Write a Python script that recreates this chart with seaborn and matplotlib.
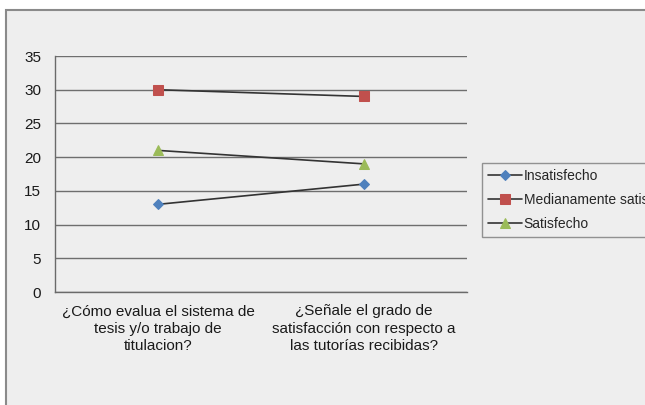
import matplotlib
matplotlib.use("Agg")
import matplotlib.pyplot as plt
from matplotlib.patches import Rectangle
import seaborn as sns
import pandas as pd

questions = [
    "¿Cómo evalua el sistema de\ntesis y/o trabajo de\ntitulacion?",
    "¿Señale el grado de\nsatisfacción con respecto a\nlas tutorías recibidas?",
]
series_names = ["Insatisfecho", "Medianamente satisfecho", "Satisfecho"]
insatisfecho = [13, 16]
medianamente = [30, 29]
satisfecho = [21, 19]
y_ticks = [0, 5, 10, 15, 20, 25, 30, 35]

colors = ["#4F81BD", "#C0504D", "#9BBB59"]
markers = ["D", "s", "^"]
sizes = [5, 7, 7]

sns.set_theme(style="white")
plt.rcParams["font.family"] = ["Liberation Sans", "DejaVu Sans"]

bg = "#EEEEEE"
fig = plt.figure(figsize=(6.45, 4.05), dpi=100)
fig.patch.set_facecolor("white")
# chart area panel with grey border, kept behind the axes
fig.patches.append(Rectangle((6 / 645, -0.1), 1.1, (405 - 10) / 405 + 0.1,
                             transform=fig.transFigure, facecolor=bg,
                             edgecolor="#8A8A8A", linewidth=1.5, zorder=-10))

ax = fig.add_axes([55 / 645, 113 / 405, 412 / 645, 236 / 405])
ax.set_facecolor(bg)

df = pd.DataFrame({
    "pos": [0, 1] * 3,
    "value": insatisfecho + medianamente + satisfecho,
    "serie": sum([[n, n] for n in series_names], []),
})

handles = []
for name, c, m, s in zip(series_names, colors, markers, sizes):
    sub = df[df["serie"] == name]
    sns.lineplot(data=sub, x="pos", y="value", ax=ax, color="#333333",
                 linewidth=1.2, marker=m, markersize=s,
                 markerfacecolor=c, markeredgecolor=c, label=name,
                 legend=False, zorder=3)
    handles.append(ax.lines[-1])

ax.set_xlim(-0.5, 1.5)
ax.set_ylim(0, 35)
ax.set_yticks(y_ticks)
ax.set_xticks([0, 1])
ax.set_xticklabels(questions, fontsize=11, color="#1A1A1A", linespacing=1.3)
ax.set_xticks([-0.5, 0.5, 1.5], minor=True)
ax.tick_params(axis="x", which="major", length=0, pad=9)
ax.tick_params(axis="x", which="minor", length=5, width=1, color="#6A6A6A", direction="out")
ax.tick_params(axis="y", length=5, width=1, color="#6A6A6A", direction="out",
               labelsize=11, labelcolor="#1A1A1A", pad=5)
ax.yaxis.grid(True, color="#6E6E6E", linewidth=1)
ax.set_axisbelow(True)
for side in ["top", "right"]:
    ax.spines[side].set_visible(False)
for side in ["left", "bottom"]:
    ax.spines[side].set_color("#6A6A6A")
    ax.spines[side].set_linewidth(1)
ax.set_xlabel("")
ax.set_ylabel("")

leg = fig.legend(handles=handles, labels=series_names, loc="upper left",
                 bbox_to_anchor=(482 / 645, (405 - 163) / 405),
                 frameon=True, fancybox=False, fontsize=10,
                 handlelength=2.4, handletextpad=0.15, labelspacing=0.7,
                 borderpad=0.45, borderaxespad=0)
leg.get_frame().set_edgecolor("#7A7A7A")
leg.get_frame().set_facecolor(bg)
leg.get_frame().set_linewidth(1)

fig.savefig("out.png", dpi=100, facecolor=fig.get_facecolor())
